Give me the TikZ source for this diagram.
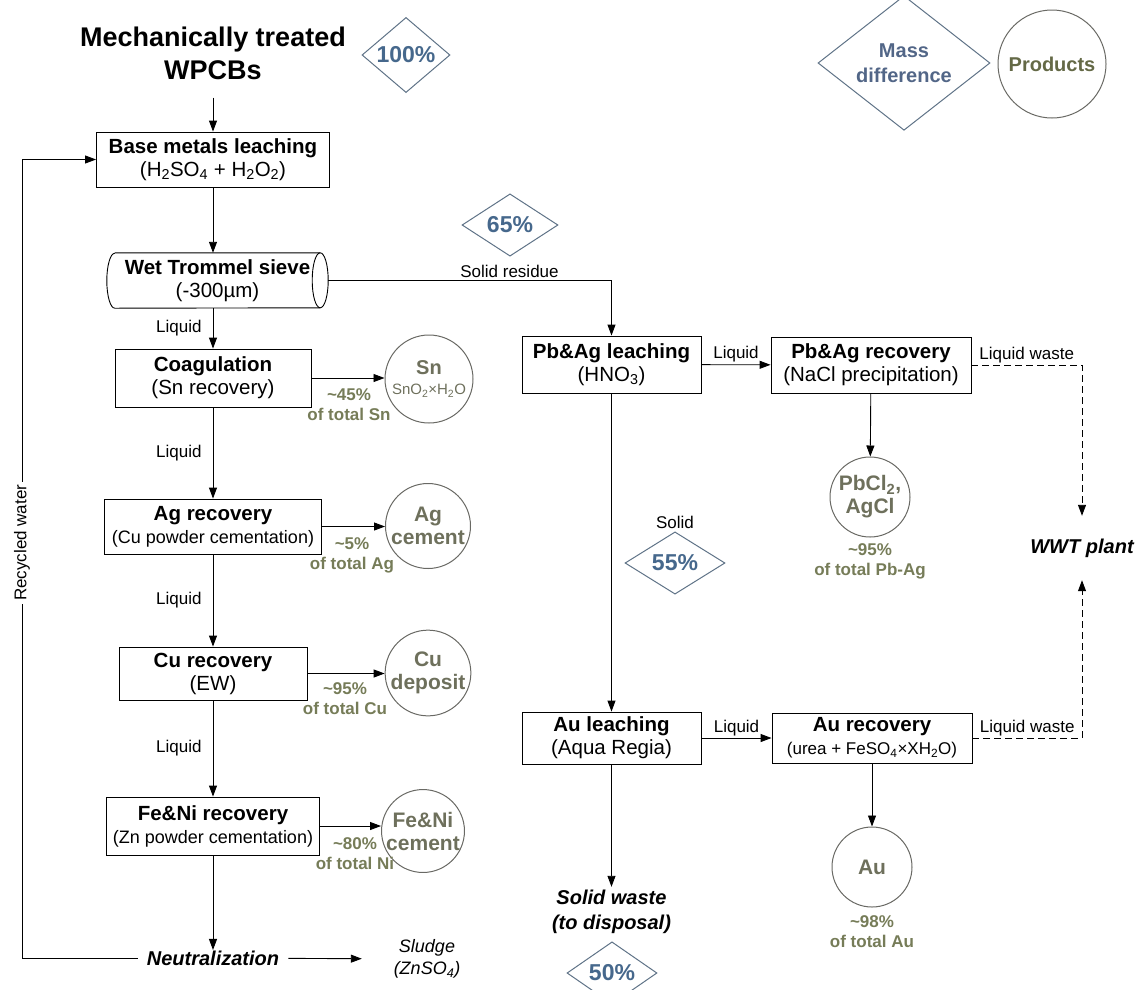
\documentclass[tikz,border=0pt]{standalone}
\usepackage{fontspec}
\setmainfont{Liberation Sans}
\usetikzlibrary{shapes.geometric, arrows.meta, positioning}
\definecolor{pctblue}{RGB}{70,104,140}
\definecolor{diaedge}{RGB}{95,115,135}
\definecolor{prodedge}{RGB}{105,105,100}
\definecolor{prodtext}{RGB}{110,112,92}
\definecolor{yieldtext}{RGB}{118,124,88}
\definecolor{legendblue}{RGB}{82,102,135}

\begin{document}
\begin{tikzpicture}[
    x=1pt, y=-1pt,
    node distance=0.6cm,
    proc/.style={rectangle, draw=black, line width=0.9pt, fill=white,
                 align=center, minimum height=55pt, inner sep=2pt,
                 font=\fontsize{20.5}{23}\selectfont},
    sieve/.style={rectangle, align=center, inner sep=2pt,
                  minimum width=221pt, minimum height=55pt,
                  font=\fontsize{20.5}{23}\selectfont},
    prod/.style={circle, draw=prodedge, line width=1pt, inner sep=0pt,
                 align=center, text=prodtext,
                 font=\fontsize{21}{23}\selectfont\bfseries},
    pct/.style={diamond, draw=diaedge, line width=1pt, inner sep=0pt,
                text=pctblue, font=\fontsize{23}{26}\selectfont\bfseries},
    yield/.style={align=center, text=yieldtext, inner sep=0pt,
                  font=\fontsize{17}{20}\selectfont\bfseries},
    lbl/.style={font=\fontsize{17}{20}\selectfont, inner sep=2pt},
    sink/.style={align=center, inner sep=0pt,
                 font=\fontsize{20}{25}\selectfont\bfseries\itshape},
    arr/.style={-{Triangle[length=11pt, width=8pt]}, line width=0.9pt},
    warr/.style={-{Triangle[length=11pt, width=8pt]}, line width=0.9pt,
                 dash pattern=on 7pt off 4pt}
]
\useasboundingbox (0,0) rectangle (1143,989);

%% ── Feed and legend ──
\node[align=center, inner sep=0pt, minimum height=89pt,
      font=\fontsize{27}{33}\selectfont\bfseries] (wpcb) at (213,53)
      {Mechanically treated\\WPCBs};
\node[pct, minimum width=88pt, minimum height=66pt] (p100) at (406,55) {100\%};
\node[pct, minimum width=172pt, minimum height=103pt, align=center,
      text=legendblue, font=\fontsize{20}{25}\selectfont\bfseries]
      (legdia) at (904,63) {Mass\\difference};
\node[prod, minimum size=108pt, text={rgb,255:red,100;green,105;blue,70},
      font=\fontsize{20}{23}\selectfont\bfseries] (legprod) at (1052,64) {Products};

%% ── Column 1: base metals line ──
\node[proc, minimum width=233pt] (base) at (213,159.5)
      {\textbf{Base metals leaching}\\(H\textsubscript{2}SO\textsubscript{4} + H\textsubscript{2}O\textsubscript{2})};
\node[sieve] (trommel) at (217.5,280.5) {\textbf{Wet Trommel sieve}\\(-300µm)};
\draw[line width=0.9pt] ([xshift=8pt]trommel.north west) -- ([xshift=-8pt]trommel.north east)
      arc[start angle=90, end angle=-90, x radius=8pt, y radius=27.5pt]
      -- ([xshift=8pt]trommel.south west)
      arc[start angle=270, end angle=90, x radius=8pt, y radius=27.5pt];
\draw[line width=0.9pt] ([xshift=-8pt]trommel.north east)
      arc[start angle=90, end angle=270, x radius=8pt, y radius=27.5pt];
\node[proc, minimum width=196pt, minimum height=58pt] (coag) at (213,378)
      {\textbf{Coagulation}\\(Sn recovery)};
\node[proc, minimum width=217pt] (agrec) at (213,526.5)
      {\textbf{Ag recovery}\\{\fontsize{18}{23}\selectfont(Cu powder cementation)}};
\node[proc, minimum width=188pt, minimum height=53pt] (curec) at (213,673.5)
      {\textbf{Cu recovery}\\(EW)};
\node[proc, minimum width=213pt, minimum height=58pt] (fenirec) at (213,826)
      {\textbf{Fe\&Ni recovery}\\{\fontsize{18}{23}\selectfont(Zn powder cementation)}};
\node[sink, inner xsep=9pt, inner ysep=0.5pt] (neut) at (213,958) {Neutralization};
\node[align=center, inner sep=0pt, minimum width=130pt,
      font=\fontsize{18}{22}\selectfont\itshape] (sludge) at (427,959)
      {Sludge\\(ZnSO\textsubscript{4})};
\coordinate (rbottom) at (22,958);
\coordinate (rtop) at (22,159.5);

%% ── Column 1: products ──
\node[prod, minimum size=88pt] (sn) at (429,379)
      {\fontsize{20}{20}\selectfont Sn\\[-3pt]{\fontsize{15}{16}\selectfont\mdseries SnO\textsubscript{2}×H\textsubscript{2}O}};
\node[prod, minimum size=85pt] (agc) at (428,526) {Ag\\cement};
\node[prod, minimum size=85pt] (cud) at (428,673) {Cu\\deposit};
\node[prod, minimum size=79pt] (fenic) at (423,831) {Fe\&Ni\\cement};
\node[yield] (snyld) at (349,405) {\textasciitilde45\%\\of total Sn};
\node[yield] (agyld) at (352,555) {\textasciitilde5\%\\of total Ag};
\node[yield] (cuyld) at (345,699) {\textasciitilde95\%\\of total Cu};
\node[yield] (niyld) at (355,854) {\textasciitilde80\%\\of total Ni};

%% ── Column 2: precious metals line ──
\node[pct, minimum width=96pt, minimum height=56pt] (p65) at (510,225) {65\%};
\node[proc, minimum width=179pt, minimum height=57pt] (pbleach) at (611.5,364.5)
      {\textbf{Pb\&Ag leaching}\\(HNO\textsubscript{3})};
\node[proc, minimum width=200pt, minimum height=56pt] (pbrec) at (871,365)
      {\textbf{Pb\&Ag recovery}\\(NaCl precipitation)};
\node[prod, minimum size=80pt] (pbcl) at (870,497) {PbCl\textsubscript{2},\\AgCl};
\node[yield] (pbyld) at (870,561) {\textasciitilde95\%\\of total Pb-Ag};
\node[lbl] (solid) at (675,522) {Solid};
\node[pct, minimum width=100pt, minimum height=61pt] (p55) at (675,563) {55\%};
\node[proc, minimum width=179pt, minimum height=52pt] (auleach) at (611.5,738)
      {\textbf{Au leaching}\\(Aqua Regia)};
\node[proc, minimum width=200pt, minimum height=50pt] (aurec) at (872,738)
      {\textbf{Au recovery}\\{\fontsize{17}{23}\selectfont(urea + FeSO\textsubscript{4}×XH\textsubscript{2}O)}};
\node[prod, minimum size=80pt] (au) at (872,867) {Au};
\node[yield] (auyld) at (872,932) {\textasciitilde98\%\\of total Au};
\node[sink, minimum height=50pt] (swaste) at (611.5,912) {Solid waste\\(to disposal)};
\node[pct, minimum width=90pt, minimum height=56pt] (p50) at (612,973) {50\%};
\node[sink, minimum height=64pt] (wwt) at (1082,548) {WWT plant};

%% ── Column 1 arrows ──
\draw[arr] (wpcb.south) -- (base.north);
\draw[arr] (base.south) -- (base |- trommel.north);
\draw[arr] (coag |- trommel.south) -- node[lbl, midway, left=9pt] {Liquid} (coag.north);
\draw[arr] (coag) -- node[lbl, midway, left=9pt] {Liquid} (agrec);
\draw[arr] (agrec) -- node[lbl, midway, left=9pt] {Liquid} (curec);
\draw[arr] (curec) -- node[lbl, midway, left=9pt] {Liquid} (fenirec);
\draw[arr] (fenirec) -- (neut);
\draw[arr] (neut) -- (sludge);
\draw[arr] (neut.west) -- (rbottom) -- node[lbl, pos=0.52, rotate=90, fill=white, inner sep=3pt] {Recycled water} (rtop) -- (base.west);

%% ── Column 1 products ──
\draw[arr] (coag.east) -- (coag.east -| sn.west);
\draw[arr] (agrec.east) -- (agrec.east -| agc.west);
\draw[arr] (curec.east) -- (curec.east -| cud.west);
\draw[arr] (fenirec.east) -- (fenirec.east -| fenic.west);

%% ── Column 2 arrows ──
\draw[arr] (trommel.east) -| node[lbl, pos=0.32, above=0pt] {Solid residue} (pbleach.north);
\draw[arr] (pbleach) -- node[lbl, midway, above=0pt] {Liquid} (pbrec);
\draw[arr] (pbrec) -- (pbcl);
\draw[arr] (pbleach) -- (auleach);
\draw[arr] (auleach) -- node[lbl, midway, above=0pt] {Liquid} (aurec);
\draw[arr] (aurec) -- (au);
\draw[arr] (auleach) -- (swaste);
\draw[warr] (pbrec.east) -| node[lbl, pos=0.25, above=0pt] {Liquid waste} (wwt.north);
\draw[warr] (aurec.east) -| node[lbl, pos=0.25, above=0pt] {Liquid waste} (wwt.south);

\end{tikzpicture}
\end{document}
